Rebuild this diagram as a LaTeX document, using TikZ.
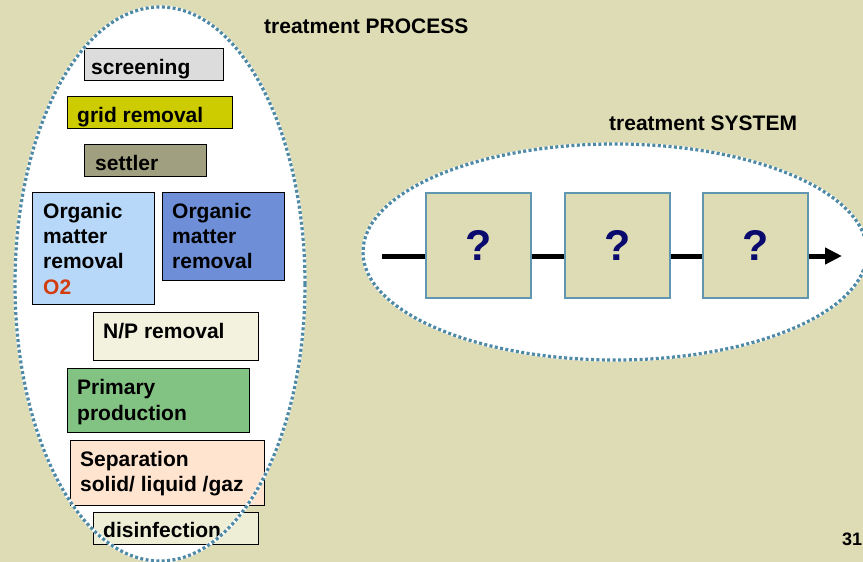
\documentclass[tikz,border=0pt]{standalone}
\usepackage{fontspec}
\setmainfont{Liberation Sans}
\usetikzlibrary{arrows.meta}
\definecolor{bgkhaki}{RGB}{222,220,180}
\definecolor{dotblue}{RGB}{78,138,165}
\definecolor{boxblue}{RGB}{96,150,175}
\definecolor{qnavy}{RGB}{10,10,110}
\definecolor{otwo}{RGB}{210,60,14}
\definecolor{cscreen}{RGB}{220,220,220}
\definecolor{cgrid}{RGB}{204,204,0}
\definecolor{csettler}{RGB}{160,160,128}
\definecolor{corgA}{RGB}{184,216,250}
\definecolor{corgB}{RGB}{110,142,216}
\definecolor{cnp}{RGB}{243,242,222}
\definecolor{cprim}{RGB}{130,194,130}
\definecolor{csep}{RGB}{255,228,208}
\definecolor{cdis}{RGB}{238,238,214}
\tikzset{
  lbox/.style={draw=black, line width=1.2pt, anchor=north west, inner sep=0pt},
  ltext/.style={anchor=base west, inner sep=0pt, font=\bfseries\fontsize{21}{25}\selectfont},
  qbox/.style={draw=boxblue, line width=1.6pt, fill=bgkhaki, minimum width=105pt, minimum height=105pt, inner sep=0pt, font=\bfseries\fontsize{43}{46}\selectfont, text=qnavy},
  dotback/.style={draw=white, line width=3.2pt},
  dotline/.style={draw=dotblue, line width=3.2pt, dash pattern=on 3pt off 2.4pt},
  flow/.style={line width=5pt, draw=black}
}
\begin{document}
\begin{tikzpicture}[x=1pt, y=-1pt]
\useasboundingbox (0,0) rectangle (863,562);
\fill[bgkhaki] (0,0) rectangle (863,562);

% left ellipse fill
\fill[white] (160,284) ellipse [x radius=145pt, y radius=277pt];

% right ellipse
\fill[white] (615,252) ellipse [x radius=252pt, y radius=108pt];
\draw[dotback] (615,252) ellipse [x radius=252pt, y radius=108pt];
\draw[dotline] (615,252) ellipse [x radius=252pt, y radius=108pt];

% titles
\node[ltext] (tproc) at (264,33) {treatment PROCESS};
\node[ltext] (tsys) at (609,130) {treatment SYSTEM};
\node[ltext, font=\bfseries\fontsize{18}{20}\selectfont] (pnum) at (842,545) {31};

% left boxes
\node[lbox, fill=cscreen, minimum width=139pt, minimum height=32pt] (scr) at (84,48) {};
\node[ltext] (scrT) at (91,74) {screening};

\node[lbox, fill=cgrid, minimum width=165pt, minimum height=32pt] (grd) at (67,96) {};
\node[ltext] (grdT) at (77,122) {grid removal};

\node[lbox, fill=csettler, minimum width=122pt, minimum height=32pt] (set) at (84,144) {};
\node[ltext] (setT) at (95,170) {settler};

\node[lbox, fill=corgA, minimum width=122pt, minimum height=112pt] (orgA) at (32,192) {};
\node[ltext] (orgA1) at (43,218) {Organic};
\node[ltext] (orgA2) at (43,243) {matter};
\node[ltext] (orgA3) at (43,268) {removal};
\node[ltext, text=otwo] (orgA4) at (43,294) {O2};

\node[lbox, fill=corgB, minimum width=122pt, minimum height=88pt] (orgB) at (162,192) {};
\node[ltext] (orgB1) at (172,218) {Organic};
\node[ltext] (orgB2) at (172,243) {matter};
\node[ltext] (orgB3) at (172,268) {removal};

\node[lbox, fill=cnp, minimum width=165pt, minimum height=48pt] (np) at (93,312) {};
\node[ltext] (npT) at (103,338) {N/P removal};

\node[lbox, fill=cprim, minimum width=182pt, minimum height=64pt] (prim) at (67,368) {};
\node[ltext] (prim1) at (77,394) {Primary};
\node[ltext] (prim2) at (77,420) {production};

\node[lbox, fill=csep, minimum width=194pt, minimum height=65pt] (sep) at (70,440) {};
\node[ltext] (sep1) at (80,466) {Separation};
\node[ltext] (sep2) at (80,491) {solid/ liquid /gaz};

\node[lbox, fill=cdis, minimum width=165pt, minimum height=32pt] (dis) at (93,512) {};
\node[ltext] (disT) at (103,537) {disinfection};

% left ellipse border on top
\draw[dotback] (160,284) ellipse [x radius=145pt, y radius=277pt];
\draw[dotline] (160,284) ellipse [x radius=145pt, y radius=277pt];

% treatment system chain
\node[qbox, anchor=north west] (q1) at (425,192) {?};
\node[qbox, anchor=north west] (q2) at (564,192) {?};
\node[qbox, anchor=north west] (q3) at (702,192) {?};
\coordinate (fin) at (382,256);
\coordinate (fout) at (842,256);
\draw[flow] (fin) -- (fin -| q1.west);
\draw[flow] (q1.east |- fin) -- (q2.west |- fin);
\draw[flow] (q2.east |- fin) -- (q3.west |- fin);
\draw[flow, -{Triangle[length=17pt, width=16pt]}] (q3.east |- fin) -- (fout);
\end{tikzpicture}
\end{document}
